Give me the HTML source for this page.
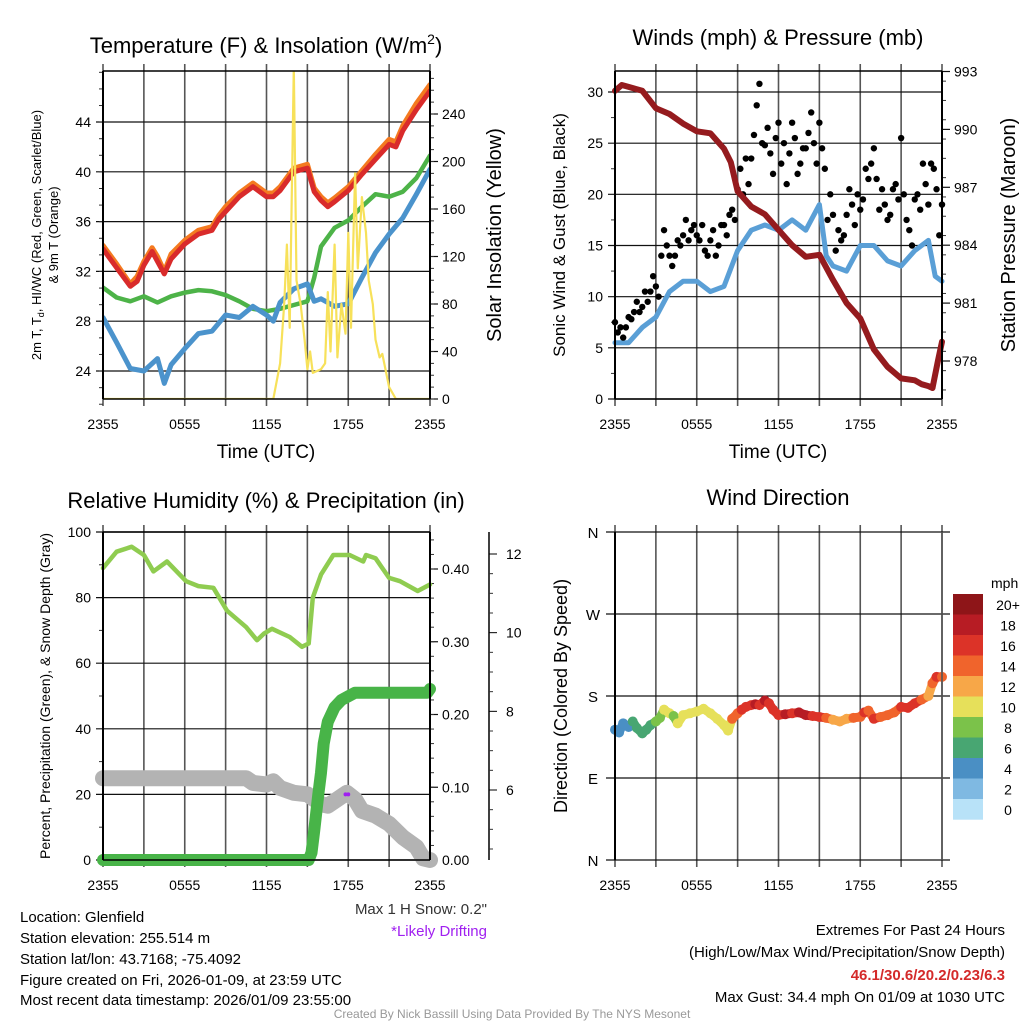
<!DOCTYPE html>
<html><head><meta charset="utf-8"><style>
html,body{margin:0;padding:0;background:#fff;}
svg{display:block;font-family:"Liberation Sans",sans-serif;}
</style></head><body>
<svg id="fig" width="1024" height="1024" viewBox="0 0 1024 1024" xmlns="http://www.w3.org/2000/svg">
<text x="266" y="53" font-size="22" text-anchor="middle">Temperature (F) &amp; Insolation (W/m<tspan font-size="14" dy="-9">2</tspan><tspan dy="9">)</tspan></text>
<text x="778" y="45" font-size="22" text-anchor="middle">Winds (mph) &amp; Pressure (mb)</text>
<text x="266" y="508" font-size="22" text-anchor="middle">Relative Humidity (%) &amp; Precipitation (in)</text>
<text x="778" y="505" font-size="22" text-anchor="middle">Wind Direction</text>

<text transform="translate(41,235) rotate(-90)" font-size="13" text-anchor="middle">2m T, T<tspan font-size="9" dy="3">d</tspan><tspan dy="-3">, HI/WC (Red, Green, Scarlet/Blue)</tspan></text>
<text transform="translate(58,235) rotate(-90)" font-size="13" text-anchor="middle">&amp; 9m T (Orange)</text>
<text transform="translate(501,235) rotate(-90)" font-size="20" text-anchor="middle">Solar Insolation (Yellow)</text>
<text x="266" y="458" font-size="19" text-anchor="middle">Time (UTC)</text>
<text transform="translate(565,235) rotate(-90)" font-size="17" text-anchor="middle">Sonic Wind &amp; Gust (Blue, Black)</text>
<text transform="translate(1015,235) rotate(-90)" font-size="20" text-anchor="middle">Station Pressure (Maroon)</text>
<text x="778" y="458" font-size="19" text-anchor="middle">Time (UTC)</text>
<text transform="translate(50,696) rotate(-90)" font-size="14" text-anchor="middle">Percent, Precipitation (Green), &amp; Snow Depth (Gray)</text>
<text transform="translate(567,696) rotate(-90)" font-size="18" text-anchor="middle">Direction (Colored By Speed)</text>

<g font-size="15">
<text x="20" y="922">Location: Glenfield</text>
<text x="20" y="943">Station elevation: 255.514 m</text>
<text x="20" y="964">Station lat/lon: 43.7168; -75.4092</text>
<text x="20" y="985">Figure created on Fri, 2026-01-09, at 23:59 UTC</text>
<text x="20" y="1005">Most recent data timestamp: 2026/01/09 23:55:00</text>
</g>
<text x="487" y="914" font-size="15" fill="#333" text-anchor="end">Max 1 H Snow: 0.2"</text>
<text x="487" y="936" font-size="15" fill="#a020f0" text-anchor="end">*Likely Drifting</text>
<g font-size="15" text-anchor="end">
<text x="1005" y="935">Extremes For Past 24 Hours</text>
<text x="1005" y="957">(High/Low/Max Wind/Precipitation/Snow Depth)</text>
<text x="1005" y="980" font-weight="bold" fill="#d42a2a">46.1/30.6/20.2/0.23/6.3</text>
<text x="1005" y="1002">Max Gust: 34.4 mph On 01/09 at 1030 UTC</text>
</g>
<text x="512" y="1018" font-size="12" fill="#999" text-anchor="middle">Created By Nick Bassill Using Data Provided By The NYS Mesonet</text>
</svg>
<script>
// ---------- data ----------
const xTickLabels = ["2355","0555","1155","1755","2355"];
const tempHours = [0,1,2,2.5,3,3.6,4,4.5,5,6,7,8,8.5,9,10,11,12,12.5,13,14,15,15.5,16,16.5,17,18,19,20,21,21.5,22,23,24];
const tempRed =   [33.8,32.3,30.8,31.2,32.5,33.6,32.8,31.8,33.0,34.2,35.0,35.3,36.2,36.8,38.0,38.8,38.0,38.0,38.5,40.0,40.3,38.4,37.7,37.2,37.6,38.5,39.8,41.0,42.2,42.0,43.3,45.0,46.5];
const tempOrange =[34.1,32.6,31.0,31.6,32.8,33.9,33.2,32.0,33.4,34.5,35.3,35.6,36.5,37.2,38.3,39.1,38.3,38.3,38.8,40.3,40.6,38.7,38.0,37.5,37.9,38.8,40.1,41.4,42.6,42.4,43.7,45.5,47.0];
const dewHours = [0,1,2,3,4,5,6,7,8,9,10,11,12,13,14,15,15.5,16,17,18,19,20,21,22,23,24];
const dewGreen = [30.7,29.9,29.6,30.0,29.5,30.0,30.3,30.5,30.4,30.1,29.6,29.0,28.8,29.0,29.3,29.6,31.5,34.0,35.5,36.1,37.2,38.2,38.0,38.4,39.5,41.3];
const chillHours = [0,1,2,3,4,4.5,5,6,7,8,9,10,11,12,12.5,13,14,15,15.5,16,17,18,19,20,21,22,23,24];
const chillBlue = [28.3,26.3,24.2,24.0,25.0,23.0,24.5,25.8,27.0,27.2,28.5,28.3,29.2,28.5,28.0,29.5,30.6,31.0,29.6,29.8,29.2,29.4,31.5,33.5,35.0,36.3,38.2,40.2];
const solarHours = [0,12.5,13,13.3,13.5,13.7,14,14.2,14.5,14.8,15,15.2,15.4,16,16.3,16.5,16.7,17,17.2,17.5,17.8,18,18.2,18.5,18.7,19,19.3,19.5,19.8,20,20.3,20.5,21,21.5,24];
const solarVals =  [0,0,30,80,130,60,280,100,80,50,25,40,22,25,30,90,40,130,35,80,55,140,60,190,110,170,140,100,80,50,35,38,10,0,0];
const tempTicks = [24,28,32,36,40,44];
const solarTicks = [0,40,80,120,160,200,240];

const windHours = [0,1,2,3,4,5,6,7,8,9,10,11,12,13,14,15,15.5,16,17,18,19,20,21,22,23,23.5,24];
const windBlue =  [5.5,5.5,7,8,10.5,11.5,11.5,10.5,11,14.5,16.5,17,16.5,17.5,16.5,19,14,13,12.5,15,15,13.5,13,14.5,15.5,12,11.5];
const gustHours = [0,0.2,0.4,0.6,0.8,1,1.2,1.4,1.6,1.8,2,2.2,2.4,2.6,2.8,3,3.2,3.4,3.6,3.8,4,4.2,4.4,4.6,4.8,5,5.2,5.4,5.6,5.8,6,6.2,6.4,6.6,6.8,7,7.2,7.4,7.6,7.8,8,8.2,8.4,8.6,8.8,9,9.2,9.4,9.6,9.8,10,10.2,10.4,10.6,10.8,11,11.2,11.4,11.6,11.8,12,12.2,12.4,12.6,12.8,13,13.2,13.4,13.6,13.8,14,14.2,14.4,14.6,14.8,15,15.2,15.4,15.6,15.8,16,16.2,16.4,16.6,16.8,17,17.2,17.4,17.6,17.8,18,18.2,18.4,18.6,18.8,19,19.2,19.4,19.6,19.8,20,20.2,20.4,20.6,20.8,21,21.2,21.4,21.6,21.8,22,22.2,22.4,22.6,22.8,23,23.2,23.4,23.6,23.8,24];
const gustVals = [7.5,6.5,7,6,7,8,7.8,8.5,9.5,8.5,9,10.5,9.5,10.5,12,11,10,14,16.5,15,14,13,14,15.5,15,16,17.5,15.5,16.5,17,16,15.5,17,14.5,14,15.5,16.5,14,15,17,17,16,18,18.5,17.5,20.5,22.5,20,23.5,21,23.5,25.8,28.7,30.8,25,24.8,26.5,24,22,25.5,27,23,25,21,24,27,25.5,22,23,24.5,24.5,26,28,25,23,27,24.5,22.5,17.5,20,18,14.5,16.5,15.5,16,18,20.5,19,17,20,18.5,19.5,22.5,21.5,23,24.5,21.5,18.5,20.5,19,17.5,18,20.5,21,19.5,25.5,20,17.5,16.5,15,19.5,20,18.5,23,21,19,23,22.5,20.5,16,19,23.7];
const presHours = [0,0.5,1,2,3,4,5,6,7,8,8.5,9,10,11,12,13,14,15,16,17,18,19,20,21,22,22.5,23,23.3,23.7,24];
const presVals =  [992.0,992.3,992.2,992.0,991.1,990.8,990.3,989.9,989.8,989.0,988.3,986.8,986.0,985.6,984.8,984.0,983.4,983.5,982.2,981.0,980.2,978.6,977.7,977.1,977.0,976.8,976.7,976.6,978.0,979.0];
const windTicks = [0,5,10,15,20,25,30];
const presTicks = [978,981,984,987,990,993];

const rhHours = [0,1,2.1,3,3.7,4.7,6.1,7,8.1,9.1,10.5,11.3,11.8,12.4,13.7,14.6,15.1,15.4,16,16.9,18.1,19.1,19.3,20,21,21.8,23.1,24];
const rhVals =  [89,94,95.5,93,88,91,85,83.5,83,76,71,67,69,70.5,68,65,66,80,87,93,93,91,93,92,86,85,82,84];
const precipHours = [0,15.1,15.3,15.5,15.8,16,16.2,16.5,17,17.5,18,18.5,23.8,24];
const precipVals =  [0,0,0.01,0.04,0.09,0.12,0.16,0.19,0.21,0.22,0.225,0.23,0.23,0.235];
const snowHours = [0,10.5,11,12,12.5,13,14,15,16,16.5,17.9,18.5,19,20,21,22,23,23.5,24];
const snowVals =  [6.30,6.30,6.18,6.14,6.22,6.05,5.93,5.89,5.64,5.60,5.93,5.76,5.47,5.35,5.14,4.80,4.55,4.26,4.22];
const driftHours = [17.8,18.0];
const driftSnow = [5.89,5.89];
const rhTicks = [0,20,40,60,80,100];
const precipTicks = [0.00,0.10,0.20,0.30,0.40];
const precipTickLabels = ["0.00","0.10","0.20","0.30","0.40"];
const snowTicks = [6,8,10,12];

const dirHours = [0,0.3,0.6,1,1.3,1.6,2,2.3,2.6,3,3.3,3.6,4,4.3,4.6,5,5.5,6,6.5,7,7.5,8,8.3,8.6,9,9.3,9.6,10,10.3,10.6,11,11.3,11.6,12,12.5,13,13.5,14,14.5,15,15.5,16,16.5,17,17.5,18,18.3,18.6,19,19.5,20,20.5,21,21.5,22,22.5,23,23.3,23.6,24];
const dirVals =  [143,140,150,146,152,145,139,143,148,152,156,165,161,158,150,159,161,163,166,161,155,148,142,155,161,165,168,170,171,170,175,172,165,159,160,161,162,159,158,157,156,154,152,155,156,157,162,164,155,157,159,162,168,167,172,176,180,194,201,201];
const dirSpeeds= [5,4,5,5,6,6,6,7,7,8,8,10,10,9,11,11,11,11,11,10,10,10,11,14,15,16,16,17,18,17,18,17,17,17,19,17,18,19,17,16,14,13,12,13,14,15,16,15,16,14,15,15,16,17,16,15,12,15,16,15];
const cbarLabels = ["20+","18","16","14","12","10","8","6","4","2","0"];
const cbarColors = ["#8e1518","#b71c24","#dc3328","#f0642c","#f7a748","#e6e05a","#7bc24a","#48a672","#4a8fc4","#7fb9e2","#b8e2f8"];
const dirTicks = [0,90,180,270,360];
const dirTickLabels = ["N","E","S","W","N"];

// ---------- helpers ----------
const NS="http://www.w3.org/2000/svg";
const svg=document.getElementById('fig');
function el(tag,attrs,parent){const e=document.createElementNS(NS,tag);for(const k in attrs)e.setAttribute(k,attrs[k]);(parent||svg).appendChild(e);return e;}
function lin(d0,d1,r0,r1){return v=>r0+(v-d0)*(r1-r0)/(d1-d0);}
function pts(hs,vs,sx,sy){return hs.map((h,i)=>sx(h).toFixed(1)+','+sy(vs[i]).toFixed(1)).join(' ');}

function frame(name,x0,x1,y0,y1){
  const g=el('g',{});
  
  
  const sx=lin(0,24,x0,x1);
  for(let h=0;h<=24;h+=3){
    const l=el('line',{x1:sx(h),x2:sx(h),y1:y0-7,y2:y1+7,stroke:'#555','stroke-width':1.6},g);
    
    
  }
  xTickLabels.forEach((t,i)=>{
    const tx=el('text',{x:sx(i*6),y:y1+30,'font-size':14,'text-anchor':'middle'},g);
    tx.textContent=t;
    
    
  });
  return {g,sx};
}
function hgrid(g,ticks,sy,x0,x1,labels,lx){
  ticks.forEach((t,i)=>{
    const l=el('line',{x1:x0-7,x2:x1,y1:sy(t),y2:sy(t),stroke:'#111','stroke-width':1.2},g);
    
    
    const tx=el('text',{x:lx,y:sy(t)+5,'font-size':14,'text-anchor':'end'},g);
    tx.textContent=labels?labels[i]:t;
    
    
  });
}
function rightTicks(g,ticks,sy,x,labels,name){
  ticks.forEach((t,i)=>{
    el('line',{x1:x,x2:x+8,y1:sy(t),y2:sy(t),stroke:'#111','stroke-width':1.2},g);
    const tx=el('text',{x:x+12,y:sy(t)+5,'font-size':14},g);
    tx.textContent=labels?labels[i]:t;
    
    
  });
}
function border(g,x0,x1,y0,y1){
  el('line',{x1:x0,x2:x0,y1:y0,y2:y1,stroke:'#000','stroke-width':2},g);
  el('line',{x1:x1,x2:x1,y1:y0,y2:y1,stroke:'#000','stroke-width':2},g);
  el('line',{x1:x0,x2:x1,y1:y0,y2:y0,stroke:'#000','stroke-width':1.5},g);
  el('line',{x1:x0,x2:x1,y1:y1,y2:y1,stroke:'#000','stroke-width':1.5},g);
}
function line(g,name,hs,vs,sx,sy,color,w){
  const p=el('polyline',{points:pts(hs,vs,sx,sy),fill:'none',stroke:color,'stroke-width':w,'stroke-linejoin':'round','stroke-linecap':'round'},g);
  
  
  return p;
}

// ---------- panel 1: temperature ----------
(function(){
  const X0=103,X1=430,Y0=71,Y1=399;
  const {g,sx}=frame('temperature-chart',X0,X1,Y0,Y1);
  const sy=lin(24,44,371,122);
  const ss=lin(0,240,399,114);
  hgrid(g,tempTicks,sy,X0,X1,null,X0-12);
  for(let v=21.33;v<48;v+=1.333){el('line',{x1:X0-4,x2:X0,y1:sy(v),y2:sy(v),stroke:'#333'},g);}
  rightTicks(g,solarTicks,ss,X1,null,'solar-tick-label');
  for(let v=0;v<276;v+=10){el('line',{x1:X1,x2:X1+4,y1:ss(v),y2:ss(v),stroke:'#333'},g);}
  const cp=el('clipPath',{id:'c1'},g);el('rect',{x:X0,y:Y0,width:X1-X0,height:Y1-Y0},cp);
  const d=el('g',{'clip-path':'url(#c1)'},g);
  line(d,'series-9m-temp-orange',tempHours,tempOrange,sx,sy,'#f47a20',5);
  line(d,'series-2m-temp-red',tempHours,tempRed,sx,sy,'#d92b2b',5);
  line(d,'series-dewpoint-green',dewHours,dewGreen,sx,sy,'#4db348',4.5);
  line(d,'series-windchill-blue',chillHours,chillBlue,sx,sy,'#4b93cc',5);
  line(d,'series-solar-yellow',solarHours,solarVals,sx,ss,'#f7e15a',2.2);
  border(g,X0,X1,Y0,Y1);
})();

// ---------- panel 2: winds ----------
(function(){
  const X0=615,X1=942,Y0=71,Y1=399;
  const {g,sx}=frame('wind-chart',X0,X1,Y0,Y1);
  const sy=lin(0,30,399,92);
  const sp=lin(978,993,361,71.5);
  hgrid(g,windTicks,sy,X0,X1,null,X0-12);
  for(let v=2.5;v<32;v+=5){el('line',{x1:X0-4,x2:X0,y1:sy(v),y2:sy(v),stroke:'#333'},g);}
  rightTicks(g,presTicks,sp,X1,null,'pressure-tick-label');
  for(let v=976.5;v<993;v+=1){el('line',{x1:X1,x2:X1+4,y1:sp(v),y2:sp(v),stroke:'#333'},g);}
  const cp=el('clipPath',{id:'c2'},g);el('rect',{x:X0-4,y:Y0,width:X1-X0+8,height:Y1-Y0},cp);
  const d=el('g',{'clip-path':'url(#c2)'},g);
  line(d,'series-wind-blue',windHours,windBlue,sx,sy,'#5a9fd6',5);
  gustHours.forEach((h,i)=>{
    const c=el('circle',{cx:sx(h),cy:sy(gustVals[i]),r:3.2,fill:'#000'},d);
    
    
  });
  line(d,'series-pressure-maroon',presHours,presVals,sx,sp,'#951b1e',6);
  border(g,X0,X1,Y0,Y1);
})();

// ---------- panel 3: humidity ----------
(function(){
  const X0=103,X1=430,Y0=532,Y1=860;
  const {g,sx}=frame('humidity-chart',X0,X1,Y0,Y1);
  const sy=lin(0,100,860,532);
  const sr=lin(0,0.4,860,569);
  const sn=lin(6,12,790,554);
  hgrid(g,rhTicks,sy,X0,X1,null,X0-12);
  for(let v=10;v<100;v+=20){el('line',{x1:X0-4,x2:X0,y1:sy(v),y2:sy(v),stroke:'#333'},g);}
  rightTicks(g,precipTicks,sr,X1,precipTickLabels,'precip-tick-label');
  for(let v=0.02;v<0.45;v+=0.02){el('line',{x1:X1,x2:X1+4,y1:sr(v),y2:sr(v),stroke:'#333'},g);}
  const ax=el('line',{x1:489,x2:489,y1:532,y2:860,stroke:'#000','stroke-width':1.5},g);
  
  
  snowTicks.forEach(t=>{
    el('line',{x1:489,x2:497,y1:sn(t),y2:sn(t),stroke:'#000'},g);
    const tx=el('text',{x:506,y:sn(t)+5,'font-size':14},g);
    tx.textContent=t;
    
    
  });
  for(let v=4.5;v<12.5;v+=0.5){if(v%2)el('line',{x1:489,x2:493,y1:sn(v),y2:sn(v),stroke:'#333'},g);}
  line(g,'series-snow-depth-gray',snowHours,snowVals,sx,sn,'#b3b3b3',16);
  line(g,'series-rh-green',rhHours,rhVals,sx,sy,'#8fcc50',4.5);
  line(g,'series-precip-green',precipHours,precipVals,sx,sr,'#48b448',12);
  driftHours.forEach((h,i)=>{
    const c=el('circle',{cx:sx(h),cy:sn(driftSnow[i]),r:2,fill:'#a020f0'},g);
    
    
  });
  border(g,X0,X1,Y0,Y1);
})();

// ---------- panel 4: direction ----------
(function(){
  const X0=615,X1=942,Y0=532,Y1=860;
  const {g,sx}=frame('direction-chart',X0,X1,Y0,Y1);
  const sy=lin(0,360,860,532);
  dirTicks.forEach((t,i)=>{
    el('line',{x1:X0-9,x2:X1+8,y1:sy(t),y2:sy(t),stroke:'#111','stroke-width':1.2},g);
    const tx=el('text',{x:X0-22,y:sy(t)+6,'font-size':15,'text-anchor':'middle'},g);
    tx.textContent=dirTickLabels[i];
    
    
  });
  function col(s){let i=10-Math.min(10,Math.floor(s/2));return cbarColors[i];}
  for(let i=0;i<dirHours.length-1;i++){
    el('line',{x1:sx(dirHours[i]),y1:sy(dirVals[i]),x2:sx(dirHours[i+1]),y2:sy(dirVals[i+1]),stroke:col(dirSpeeds[i]),'stroke-width':9,'stroke-linecap':'round'},g);
  }
  dirHours.forEach((h,i)=>{
    const c=el('circle',{cx:sx(h),cy:sy(dirVals[i]),r:5,fill:col(dirSpeeds[i])},g);
    
    
  });
  el('line',{x1:X0,x2:X0,y1:Y0,y2:Y1,stroke:'#000','stroke-width':2},g);
  el('line',{x1:X1,x2:X1,y1:Y0,y2:Y1,stroke:'#555','stroke-width':1.6},g);
  const cb=el('g',{},g);
  
  
  const t=el('text',{x:991,y:588,'font-size':14},cb);t.textContent='mph';
  cbarColors.forEach((c,i)=>{
    const r=el('rect',{x:953,y:594+i*20.5,width:30,height:20.7,fill:c},cb);
    
    
    const tx=el('text',{x:1008,y:610+i*20.5,'font-size':14,'text-anchor':'middle'},cb);
    tx.textContent=cbarLabels[i];
    
    
  });
})();
</script>
</body></html>
